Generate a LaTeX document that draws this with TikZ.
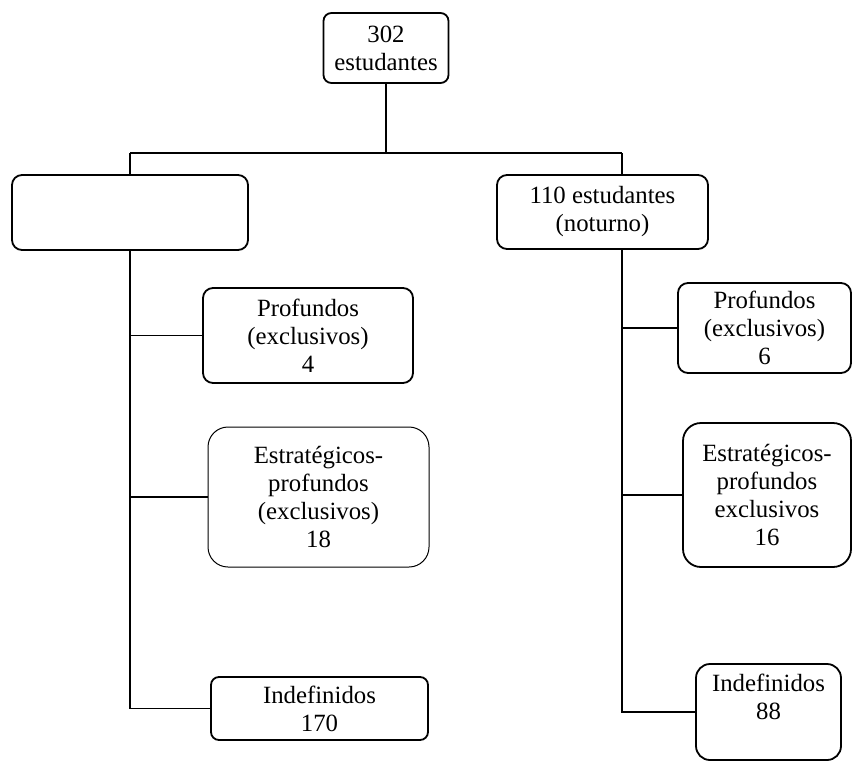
\documentclass[tikz,border=0pt]{standalone}
\usepackage{fontspec}
\setmainfont{Liberation Serif}
\begin{document}
\begin{tikzpicture}[x=0.5pt,y=-0.5pt,
  boxstyle/.style={draw, rounded corners=5pt, line width=0.9pt, align=center, inner sep=0pt,
    font=\fontsize{12.4}{14}\selectfont},
  linestyle/.style={line width=0.7pt}]
\useasboundingbox (0,0) rectangle (852,762);
\clip (0,0) rectangle (852,762);

% top and groups
\node[boxstyle, rounded corners=4pt, minimum width=62.5pt, minimum height=35pt] (total) at (386,48) {302\\estudantes};
\node[boxstyle, minimum width=118pt, minimum height=37.5pt] (diurno) at (130,212.5) {};
\node[boxstyle, minimum width=105.5pt, minimum height=37pt] (noturno) at (602.5,212) {110 estudantes\\(noturno)};
\coordinate (jl) at (130,153);
\coordinate (jr) at (622,153);

% left column
\node[boxstyle, minimum width=105pt, minimum height=47.5pt] (prof4) at (308,335.5) {Profundos\\(exclusivos)\\4};
\node[boxstyle, rounded corners=10pt, line width=0.5pt, minimum width=110.5pt, minimum height=70pt] (estr18) at (318.5,497) {Estrat\'egicos-\\profundos\\(exclusivos)\\18};
\node[boxstyle, rounded corners=4pt, minimum width=108.5pt, minimum height=31.5pt] (indef170) at (319.5,708.5) {Indefinidos\\170};

% right column
\node[boxstyle, minimum width=86.5pt, minimum height=45pt] (prof6) at (764.5,328) {Profundos\\(exclusivos)\\6};
\node[boxstyle, rounded corners=9pt, minimum width=84pt, minimum height=72pt] (estr16) at (767,495) {Estrat\'egicos-\\profundos\\exclusivos\\16};
\node[boxstyle, rounded corners=7pt, minimum width=72.5pt, minimum height=48pt,
  label={[align=center, font=\fontsize{12.4}{14}\selectfont, yshift=7.5pt]center:Indefinidos\\88}] (indef88) at (768.5,712) {};

% connectors
\draw[linestyle] (total.south) -- (total.south |- jl);
\draw[linestyle] (jl) -- (jr);
\draw[linestyle] (jl) -- (diurno.north);
\draw[linestyle] (jr) -- (jr |- noturno.north);

\draw[linestyle] (diurno.south) |- (indef170.west);
\draw[linestyle] (diurno.south |- prof4.west) -- (prof4.west);
\draw[linestyle] (diurno.south |- estr18.west) -- (estr18.west);

\draw[linestyle] (jr |- noturno.south) |- (indef88.west);
\draw[linestyle] (jr |- prof6.west) -- (prof6.west);
\draw[linestyle] (jr |- estr16.west) -- (estr16.west);
\end{tikzpicture}
\end{document}
